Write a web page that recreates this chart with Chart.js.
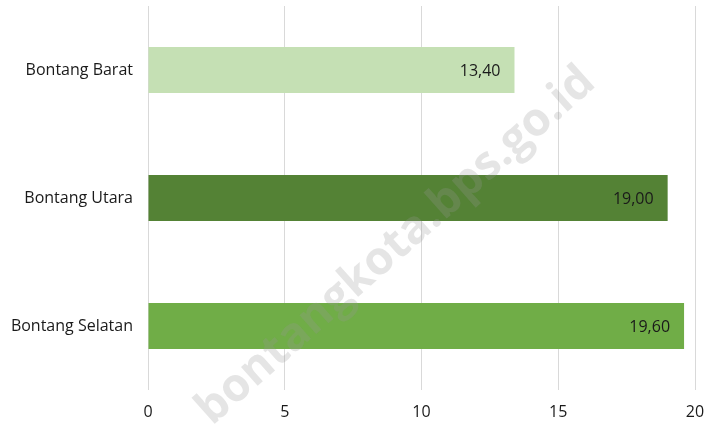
<!DOCTYPE html>
<html>
<head>
<meta charset="utf-8">
<script src="https://cdn.jsdelivr.net/npm/chart.js@4.4.0/dist/chart.umd.min.js"></script>
<style>
html,body{margin:0;padding:0;background:#fff;}
#wrap{width:707px;height:424px;position:relative;}
</style>
</head>
<body>
<div id="wrap"><canvas id="c"></canvas></div>
<script>
const categories = ["Bontang Barat", "Bontang Utara", "Bontang Selatan"];
const values = [13.40, 19.00, 19.60];
const barColors = ["#c5e0b4", "#548235", "#70ad47"];
const xTicks = [0, 5, 10, 15, 20];
const FONT = "'Open Sans', 'Noto Sans', sans-serif";

const labelPlugin = {
  id: 'valueLabels',
  afterDatasetsDraw(chart) {
    const ctx = chart.ctx;
    const meta = chart.getDatasetMeta(0);
    ctx.save();
    ctx.font = "16px " + FONT;
    ctx.fillStyle = "#1a1a1a";
    ctx.textAlign = "right";
    ctx.textBaseline = "middle";
    meta.data.forEach((bar, i) => {
      const txt = values[i].toFixed(2).replace('.', ',');
      ctx.fillText(txt, bar.x - 14, bar.y + 1);
    });
    ctx.restore();
  }
};

const watermarkPlugin = {
  id: 'watermark',
  afterDraw(chart) {
    const ctx = chart.ctx;
    ctx.save();
    ctx.translate(396, 246);
    ctx.rotate(-41.5 * Math.PI / 180);
    ctx.font = "bold 46px " + FONT;
    ctx.fillStyle = "rgba(150,150,150,0.25)";
    ctx.textAlign = "center";
    ctx.textBaseline = "middle";
    ctx.fillText("bontangkota.bps.go.id", 0, 0);
    ctx.restore();
  }
};

new Chart(document.getElementById('c'), {
  type: 'bar',
  data: {
    labels: categories,
    datasets: [{
      data: values,
      backgroundColor: barColors,
      barPercentage: 0.36,
      categoryPercentage: 1.0
    }]
  },
  options: {
    indexAxis: 'y',
    responsive: true,
    maintainAspectRatio: false,
    animation: false,
    layout: { padding: { top: 6, right: 12, left: 0, bottom: 0 } },
    plugins: { legend: { display: false }, tooltip: { enabled: false } },
    scales: {
      x: {
        min: 0, max: 20,
        afterBuildTicks(scale) { scale.ticks = xTicks.map(v => ({ value: v })); },
        afterFit(scale) {
          scale.height = 34;
          scale.paddingLeft = 0; scale.paddingRight = 0;
          scale.paddingTop = 0; scale.paddingBottom = 0;
        },
        grid: { color: "#d9d9d9", lineWidth: 1, drawTicks: false },
        border: { display: false },
        ticks: { color: "#1a1a1a", font: { family: FONT, size: 16 }, padding: 13 }
      },
      y: {
        afterFit(scale) {
          scale.width = 148;
          scale.paddingLeft = 0; scale.paddingRight = 0;
          scale.paddingTop = 0; scale.paddingBottom = 0;
        },
        grid: { display: false, drawTicks: false },
        border: { display: false },
        ticks: { color: "#1a1a1a", font: { family: FONT, size: 16 }, padding: 15 }
      }
    }
  },
  plugins: [labelPlugin, watermarkPlugin]
});
</script>
</body>
</html>
